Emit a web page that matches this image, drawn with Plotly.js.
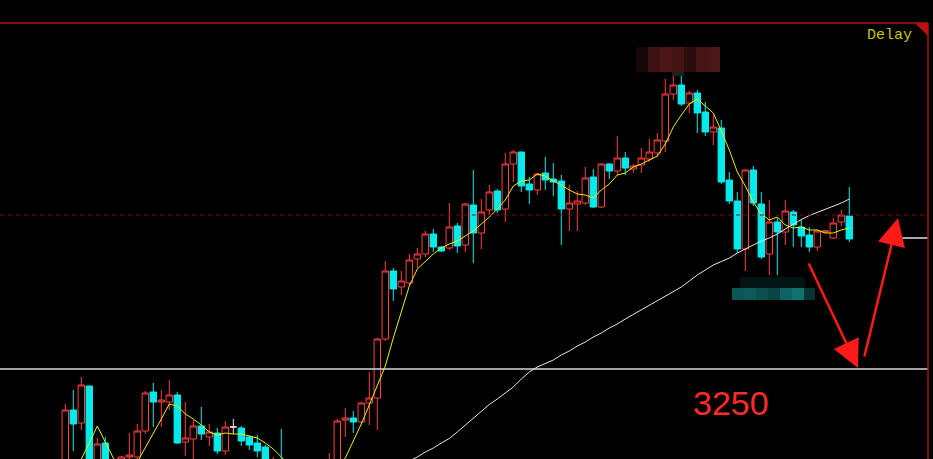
<!DOCTYPE html>
<html>
<head>
<meta charset="utf-8">
<script src="https://cdn.plot.ly/plotly-3.0.1.min.js"></script>
<style>
  html, body { margin:0; padding:0; background:#000; }
  #chart { width:933px; height:459px; }
</style>
</head>
<body>
<div id="chart"></div>
<script>
// ---- data ----
const openP = [3149,3209,3196,3233,3149,3176,3149,3149,3162,3162,
  3188,3227,3217,3217,3224,3177,3180,3193,3182,3186,
  3168,3192,3191,3182,3176,3172,3139,3157,3140,3130,
  3125,3135,3140,3139,3149,3199,3201,3197,3216,3221,
  3280,3348,3332,3336,3360,3365,3385,3372,3371,3393,
  3374,3414,3386,3409,3428,3410,3455,3467,3435,3429,
  3446,3440,3438,3410,3415,3416,3442,3412,3455,3448,
  3461,3450,3454,3460,3466,3478,3525,3534,3516,3526,
  3507,3487,3491,3439,3418,3370,3449,3415,3365,3397,
  3387,3407,3392,3384,3372,3387,3381,3397,3403];
const highP = [3215,3229,3242,3233,3181,3182,3157,3163,3186,3195,
  3228,3236,3229,3239,3227,3217,3199,3212,3195,3191,
  3198,3200,3193,3184,3184,3174,3162,3190,3150,3145,
  3140,3150,3152,3166,3200,3211,3208,3217,3247,3281,
  3358,3351,3348,3365,3371,3388,3390,3373,3416,3396,
  3416,3449,3420,3434,3430,3466,3469,3467,3442,3446,
  3462,3456,3444,3434,3428,3452,3450,3456,3456,3483,
  3467,3455,3471,3480,3486,3540,3544,3544,3528,3529,
  3517,3504,3499,3447,3427,3450,3453,3427,3419,3401,
  3419,3409,3400,3392,3390,3389,3401,3409,3432];
const lowP = [3139,3168,3189,3139,3144,3139,3129,3144,3154,3157,
  3185,3192,3192,3209,3175,3163,3157,3179,3173,3165,
  3164,3185,3173,3169,3162,3149,3134,3139,3120,3115,
  3110,3125,3128,3134,3144,3182,3186,3196,3194,3189,
  3278,3318,3324,3334,3351,3362,3367,3367,3369,3366,
  3367,3356,3370,3404,3406,3397,3437,3427,3415,3424,
  3429,3423,3374,3388,3388,3414,3411,3411,3440,3444,
  3444,3446,3446,3457,3462,3467,3519,3513,3506,3486,
  3483,3474,3435,3415,3366,3348,3413,3360,3344,3344,
  3374,3372,3372,3367,3368,3386,3380,3393,3377];
const closeP = [3209,3195,3234,3144,3175,3149,3139,3162,3164,3188,
  3226,3217,3219,3224,3176,3181,3193,3185,3187,3168,
  3192,3192,3178,3174,3168,3154,3149,3144,3130,3125,
  3135,3145,3148,3154,3198,3201,3197,3216,3221,3280,
  3348,3330,3338,3359,3365,3385,3372,3368,3392,3373,
  3415,3386,3407,3427,3409,3455,3467,3433,3429,3445,
  3439,3437,3410,3416,3418,3441,3412,3455,3448,3461,
  3451,3453,3461,3467,3479,3525,3534,3515,3526,3506,
  3487,3492,3437,3418,3370,3449,3416,3362,3397,3387,
  3408,3394,3383,3372,3388,3388,3396,3404,3380];
// short moving average (yellow)
const maShort = [3139,3149,3160,3176,3193,3177,3161,3151,3149,3157,
  3171,3185,3200,3215,3213,3205,3200,3194,3187,3184,
  3186,3185,3185,3183,3181,3176,3170,3162,3153,3145,
  3141,3139,3141,3145,3152,3161,3178,3195,3214,3234,
  3253,3281,3308,3333,3350,3358,3365,3371,3375,3378,
  3383,3388,3395,3402,3410,3419,3433,3438,3439,3445,
  3443,3438,3434,3429,3425,3424,3421,3429,3435,3444,
  3446,3452,3455,3459,3463,3475,3492,3504,3515,3520,
  3513,3506,3488,3469,3447,3433,3417,3405,3399,3402,
  3394,3391,3392,3389,3389,3386,3386,3389,3391];
// long moving average (white)
const maLong = [null,null,null,null,null,null,null,null,null,null,
  null,null,null,null,null,null,null,null,null,null,
  null,null,null,null,null,null,null,null,null,null,
  null,null,null,null,null,null,null,null,null,null,
  3144,3149,3153,3158,3162,3167,3171,3176,3180.5,3187,
  3194,3201,3208,3214.5,3220,3226,3232,3240,3247,3252,
  3255.5,3259,3264,3268,3273,3277,3282,3286,3291,3295,
  3300,3304.5,3309,3313.5,3318,3322.6,3327,3332,3338,3344,
  3349,3354,3357.5,3361,3366,3370,3374,3378,3381,3385,
  3390,3395,3399.5,3403.5,3406.5,3410,3413,3416,3420];
const levelDashed = 3404;
const levelTarget = 3250;
const levelShort = 3381;
const delayLabel = "Delay";
const targetLabel = "3250";

// ---- geometry helpers (pixel -> data) ----
const X0 = -8.1625, PXU = 8;          // 8 px per candle
const xAt = px => X0 + px / PXU;
const yAt = py => 3619 - py;
const pxX = px => px / 928;            // paper x
const pyY = py => 1 - (py - 23) / 436; // paper y

const idx = openP.map((_, i) => i);
const mainI = idx.filter(i => openP[i] !== closeP[i]);
const dojiI = idx.filter(i => openP[i] === closeP[i]);
const pick = (arr, sel) => sel.map(i => arr[i]);

const RED = '#ff3c3c', CYAN = '#00ecec';

const traces = [
  {
    type: 'candlestick', x: mainI, open: pick(openP, mainI), high: pick(highP, mainI),
    low: pick(lowP, mainI), close: pick(closeP, mainI),
    increasing: { line: { color: RED, width: 1 }, fillcolor: '#000000' },
    decreasing: { line: { color: CYAN, width: 1 }, fillcolor: CYAN },
    whiskerwidth: 0, hoverinfo: 'skip'
  },
  {
    type: 'candlestick', x: dojiI, open: pick(openP, dojiI), high: pick(highP, dojiI),
    low: pick(lowP, dojiI), close: pick(closeP, dojiI),
    increasing: { line: { color: '#e8e8e8', width: 1 }, fillcolor: '#e8e8e8' },
    decreasing: { line: { color: '#e8e8e8', width: 1 }, fillcolor: '#e8e8e8' },
    whiskerwidth: 0, hoverinfo: 'skip'
  },
  { type: 'scatter', mode: 'lines', x: idx, y: maShort, line: { color: '#f0f000', width: 1 }, hoverinfo: 'skip' },
  { type: 'scatter', mode: 'lines', x: idx, y: maLong, line: { color: '#e8e8e8', width: 1 }, hoverinfo: 'skip' }
];

const shapes = [
  { type: 'line', xref: 'paper', yref: 'y', x0: 0, x1: 1, y0: levelDashed, y1: levelDashed,
    line: { color: '#7a0a0a', width: 1, dash: '4px,4px' } },
  { type: 'line', xref: 'paper', yref: 'y', x0: 0, x1: 1, y0: levelTarget, y1: levelTarget,
    line: { color: '#d8d8d8', width: 1.5 } },
  { type: 'line', xref: 'paper', yref: 'y', x0: pxX(900), x1: 1, y0: levelShort, y1: levelShort,
    line: { color: '#e0e0e0', width: 1.5 } },
  { type: 'line', xref: 'paper', yref: 'paper', x0: 0, x1: 1, y0: 1, y1: 1,
    line: { color: '#a81414', width: 1.5 } },
  { type: 'line', xref: 'paper', yref: 'paper', x0: 1, x1: 1, y0: 0, y1: 1,
    line: { color: '#a81414', width: 1.5 } },
  { type: 'path', xref: 'paper', yref: 'paper',
    path: `M ${pxX(915)} 1 L 1 1 L 1 ${pyY(36)} Z`, fillcolor: '#c01010', line: { width: 0 } }
];
// pixelated (mosaic) blocks
const mosaicTop = [['#150707',636,648],['#3d1111',648,660],['#4a1616',660,672],['#451414',672,684],['#2c0d0d',684,696],['#461515',696,708],['#4c1717',708,720]];
mosaicTop.forEach(([c,a,b]) => shapes.push({ type:'rect', xref:'paper', yref:'paper', layer:'above',
  x0:pxX(a), x1:pxX(b), y0:pyY(72), y1:pyY(47), fillcolor:c, line:{width:0} }));
shapes.push({ type:'rect', xref:'paper', yref:'paper', layer:'above', x0:pxX(672), x1:pxX(684), y0:pyY(76), y1:pyY(72), fillcolor:'#1c2020', line:{width:0} });
const mosaicLow = [['#0c5656',732,744],['#0f5a5a',744,756],['#0c4f4f',756,768],['#0a4444',768,780],['#106262',780,792],['#117070',792,804],['#083333',804,815]];
mosaicLow.forEach(([c,a,b]) => {
  shapes.push({ type:'rect', xref:'paper', yref:'paper', layer:'above', x0:pxX(a), x1:pxX(b), y0:pyY(300), y1:pyY(288), fillcolor:c, line:{width:0} });
});
shapes.push({ type:'rect', xref:'paper', yref:'paper', layer:'above', x0:pxX(740), x1:pxX(805), y0:pyY(288), y1:pyY(277), fillcolor:'#031414', line:{width:0} });

const annotations = [
  { xref:'paper', yref:'paper', x: pxX(914), y: pyY(36), xanchor:'right', yanchor:'middle', showarrow:false,
    text: delayLabel, font:{ family:'Liberation Mono, DejaVu Sans Mono, monospace', size:15, color:'#c8c800' } },
  { xref:'paper', yref:'paper', x: pxX(731), y: pyY(403), xanchor:'center', yanchor:'middle', showarrow:false,
    text: targetLabel, font:{ family:'Liberation Sans, Arial, sans-serif', size:34, color:'#ff2a2a' } },
  { xref:'x', yref:'y', x: xAt(858), y: yAt(368), ax: -50, ay: -106, text:'', showarrow:true,
    arrowhead:2, arrowsize:2.2, arrowwidth:2.5, arrowcolor:'#ff1a1a' },
  { xref:'x', yref:'y', x: xAt(898), y: yAt(218), ax: -34, ay: 140, text:'', showarrow:true,
    arrowhead:2, arrowsize:2.2, arrowwidth:2.5, arrowcolor:'#ff1a1a' }
];

const layout = {
  width: 933, height: 459,
  margin: { l: 0, r: 5, t: 23, b: 0 },
  paper_bgcolor: '#000000', plot_bgcolor: '#000000',
  showlegend: false, hovermode: false,
  boxgap: 0.2, boxgroupgap: 0,
  xaxis: { range: [X0, X0 + 928 / PXU], visible: false, rangeslider: { visible: false }, fixedrange: true },
  yaxis: { range: [3160, 3596], visible: false, fixedrange: true },
  shapes, annotations
};
Plotly.newPlot('chart', traces, layout, { staticPlot: true, displayModeBar: false });
</script>
</body>
</html>
